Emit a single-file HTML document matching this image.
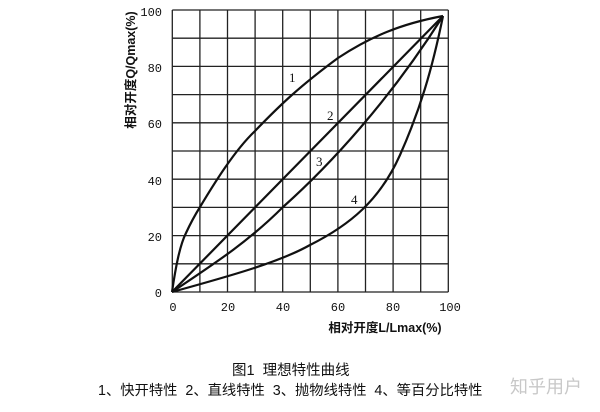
<!DOCTYPE html>
<html><head><meta charset="utf-8"><style>
body{margin:0;background:#fff;width:600px;height:407px;overflow:hidden;font-family:"Liberation Sans","Noto Sans CJK SC",sans-serif;}
</style></head><body>
<svg width="600" height="407" xmlns="http://www.w3.org/2000/svg">
<g stroke="#222" stroke-width="1.3">
<line x1="172.3" y1="10" x2="172.3" y2="292"/><line x1="199.9" y1="10" x2="199.9" y2="292"/><line x1="227.5" y1="10" x2="227.5" y2="292"/><line x1="255.1" y1="10" x2="255.1" y2="292"/><line x1="282.7" y1="10" x2="282.7" y2="292"/><line x1="310.3" y1="10" x2="310.3" y2="292"/><line x1="337.9" y1="10" x2="337.9" y2="292"/><line x1="365.5" y1="10" x2="365.5" y2="292"/><line x1="393.1" y1="10" x2="393.1" y2="292"/><line x1="420.7" y1="10" x2="420.7" y2="292"/><line x1="448.3" y1="10" x2="448.3" y2="292"/>
<line x1="172.3" y1="292" x2="448.3" y2="292"/><line x1="172.3" y1="263.8" x2="448.3" y2="263.8"/><line x1="172.3" y1="235.6" x2="448.3" y2="235.6"/><line x1="172.3" y1="207.4" x2="448.3" y2="207.4"/><line x1="172.3" y1="179.2" x2="448.3" y2="179.2"/><line x1="172.3" y1="151" x2="448.3" y2="151"/><line x1="172.3" y1="122.8" x2="448.3" y2="122.8"/><line x1="172.3" y1="94.6" x2="448.3" y2="94.6"/><line x1="172.3" y1="66.4" x2="448.3" y2="66.4"/><line x1="172.3" y1="38.2" x2="448.3" y2="38.2"/><line x1="172.3" y1="10" x2="448.3" y2="10"/>
</g>
<g fill="none" stroke="#111" stroke-width="2.2" stroke-linejoin="round">
<path d="M172,292 C176,265 180,245 186,233 C192,220 195,215 200,207 C215,182 235,150 255,131 C280,105 300,86 338,58 C370,37 400,24 443,16"/>
<polyline points="172,292 443,16"/>
<path d="M172,292 C220,260 250,240 283,207 C330,165 390,100 443,16"/>
<path d="M172,292 C230,276 280,262 310,245 C350,225 380,200 400,155 C420,110 432,70 443,16"/>
</g>
<g font-family="Liberation Serif,serif" font-size="13" fill="#111">
<text x="289" y="82">1</text><text x="327" y="120">2</text><text x="316" y="166">3</text><text x="351" y="204">4</text>
</g>
<g font-family="Liberation Mono,monospace" font-size="12" fill="#111" text-anchor="end">
<text x="162" y="16">100</text><text x="162" y="72">80</text><text x="162" y="128">60</text><text x="162" y="185">40</text><text x="162" y="241">20</text><text x="162" y="297">0</text>
</g>
<g font-family="Liberation Mono,monospace" font-size="12" fill="#111" text-anchor="middle">
<text x="173" y="311">0</text><text x="228" y="311">20</text><text x="283" y="311">40</text><text x="338" y="311">60</text><text x="393" y="311">80</text><text x="450" y="311">100</text>
</g>
<text x="385" y="332" font-size="12.5" font-weight="bold" text-anchor="middle" fill="#111" font-family="Liberation Sans,Noto Sans CJK SC,sans-serif">相对开度L/Lmax(%)</text>
<text transform="translate(135,70) rotate(-90)" font-size="12.5" font-weight="bold" text-anchor="middle" fill="#111" font-family="Liberation Sans,Noto Sans CJK SC,sans-serif">相对开度Q/Qmax(%)</text>
<text x="232" y="375" font-size="14.5" fill="#111" font-family="Liberation Sans,Noto Sans CJK SC,sans-serif" xml:space="preserve">图1  理想特性曲线</text>
<text x="98" y="395" font-size="14.3" fill="#111" font-family="Liberation Sans,Noto Sans CJK SC,sans-serif" xml:space="preserve">1、快开特性  2、直线特性  3、抛物线特性  4、等百分比特性</text>
<text x="510" y="393" font-size="18" fill="#c8c8c8" font-family="Liberation Sans,Noto Sans CJK SC,sans-serif">知乎用户</text>
</svg>
</body></html>
